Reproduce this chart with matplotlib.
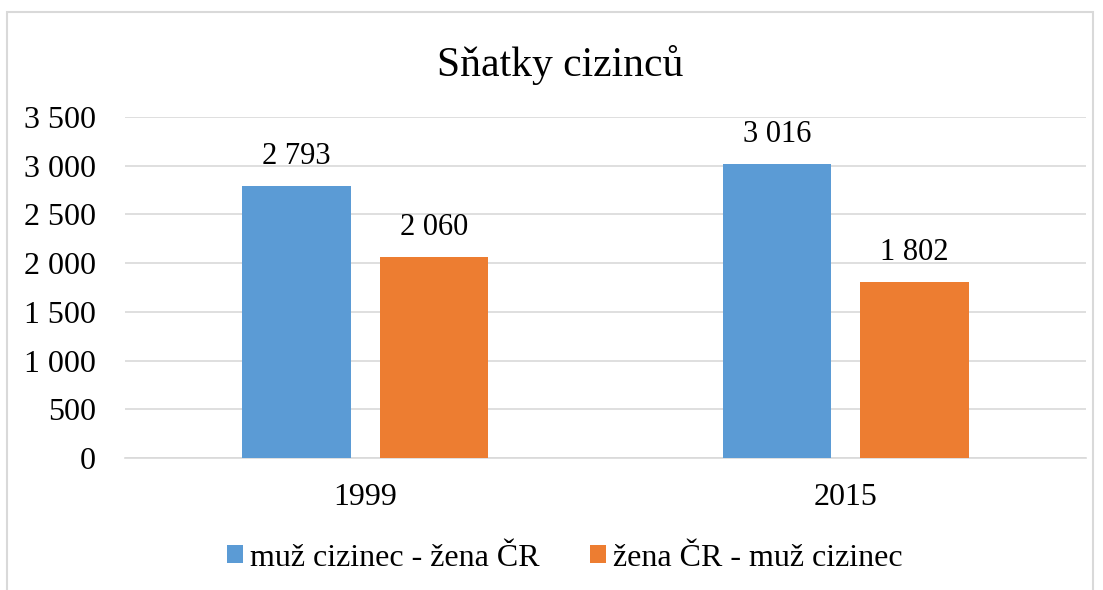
import matplotlib
matplotlib.use('Agg')
import numpy as np
import matplotlib.pyplot as plt
from matplotlib.patches import Rectangle
from matplotlib.ticker import FuncFormatter

years = ['1999', '2015']
series_names = ['muž cizinec - žena ČR', 'žena ČR - muž cizinec']
muz_cizinec = [2793, 3016]
zena_cr = [2060, 1802]

colors = ['#5B9BD5', '#ED7D31']

plt.rcParams['font.family'] = ['Liberation Serif', 'DejaVu Serif']

def fmt_space(v, pos=None):
    return f'{int(v):,}'.replace(',', ' ')

fig = plt.figure(figsize=(11.03, 5.90), dpi=100)
ax = fig.add_axes([0.1133, 0.2237, 0.8713, 0.578])

x = np.arange(len(years))
width = 0.225
offset = 0.143

b1 = ax.bar(x - offset, muz_cizinec, width, color=colors[0], label=series_names[0], zorder=3)
b2 = ax.bar(x + offset, zena_cr, width, color=colors[1], label=series_names[1], zorder=3)

for bars in (b1, b2):
    for rect in bars:
        h = rect.get_height()
        ax.annotate(fmt_space(h), (rect.get_x() + rect.get_width() / 2, h),
                    xytext=(0, 11), textcoords='offset points',
                    ha='center', va='bottom', fontsize=22)

ax.set_xlim(-0.5, 1.5)
ax.set_ylim(0, 3500)
ax.set_yticks(np.arange(0, 3501, 500))
ax.yaxis.set_major_formatter(FuncFormatter(fmt_space))
ax.set_xticks(x)
ax.set_xticklabels(years)
ax.tick_params(axis='both', length=0, labelsize=23)
ax.tick_params(axis='y', pad=21)
ax.tick_params(axis='x', pad=18)
ax.grid(axis='y', color='#D9D9D9', linewidth=1.2, zorder=0)
for s in ['top', 'right', 'left']:
    ax.spines[s].set_visible(False)
ax.spines['bottom'].set_color('#D9D9D9')
ax.spines['bottom'].set_linewidth(1.2)

fig.text(0.508, 0.89, 'Sňatky cizinců', ha='center', va='center', fontsize=30)

fig.legend(handles=[b1, b2], labels=series_names, loc='center', bbox_to_anchor=(0.512, 0.054),
           ncol=2, frameon=False, fontsize=23, handlelength=0.5, handleheight=0.5,
           handletextpad=0.22, columnspacing=1.6)

fig.patches.append(Rectangle((7 / 1103, -0.05), 1086 / 1103, 1 - 12 / 590 + 0.05,
                             transform=fig.transFigure, fill=False,
                             edgecolor='#D9D9D9', linewidth=1.5))

fig.savefig('out.png', dpi=100)
